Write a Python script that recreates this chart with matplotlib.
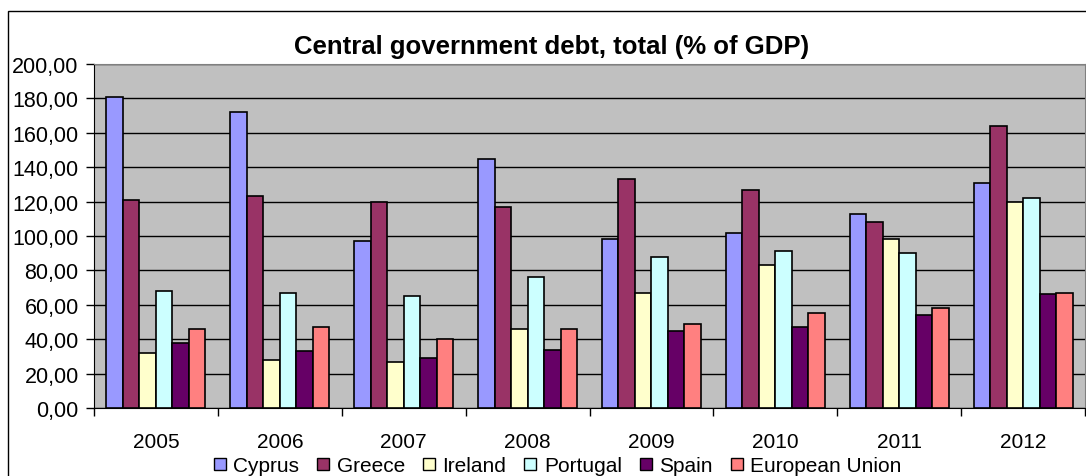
import numpy as np
import matplotlib.pyplot as plt
from matplotlib.patches import Rectangle
from matplotlib.lines import Line2D

years = ['2005', '2006', '2007', '2008', '2009', '2010', '2011', '2012']
countries = ['Cyprus', 'Greece', 'Ireland', 'Portugal', 'Spain', 'European Union']
cyprus = [181, 172, 97, 145, 98, 102, 113, 131]
greece = [121, 123, 120, 117, 133, 127, 108, 164]
ireland = [32, 28, 27, 46, 67, 83, 98, 120]
portugal = [68, 67, 65, 76, 88, 91, 90, 122]
spain = [38, 33, 29, 34, 45, 47, 54, 66]
eu = [46, 47, 40, 46, 49, 55, 58, 67]
colors = ['#9999FF', '#993366', '#FFFFCC', '#CCFFFF', '#660066', '#FF8080']

plt.rcParams['font.family'] = ['Liberation Sans', 'DejaVu Sans']

fig = plt.figure(figsize=(10.86, 4.77), dpi=100)
ax = fig.add_axes([94 / 1086, 1 - 409 / 477, 991 / 1086, 344 / 477])
ax.set_facecolor('#C0C0C0')

series = [cyprus, greece, ireland, portugal, spain, eu]
x = np.arange(len(years))
w = 0.8 / 6
for i, vals in enumerate(series):
    ax.bar(x - 0.4 + w * (i + 0.5), vals, w, color=colors[i], edgecolor='black',
           linewidth=1.2, zorder=3, label=countries[i])

ax.set_xlim(-0.5, len(years) - 0.5)
ax.set_ylim(0, 200)
ax.set_yticks(np.arange(0, 201, 20))
ax.set_yticklabels([f'{v},00' for v in range(0, 201, 20)])
ax.yaxis.grid(True, color='black', linewidth=1)
ax.set_axisbelow(True)

ax.set_xticks(x)
ax.set_xticklabels(years)
ax.set_xticks(np.arange(-0.5, len(years)), minor=True)
ax.tick_params(axis='x', which='major', length=0, pad=17, labelsize=15)
ax.tick_params(axis='x', which='minor', length=6, width=1, direction='out')
ax.tick_params(axis='y', length=6, width=1, pad=5, labelsize=15.5)

for s in ['top', 'right']:
    ax.spines[s].set_color('#808080')
for s in ['left', 'bottom']:
    ax.spines[s].set_color('black')

fig.text(552 / 1086, 1 - 47 / 477, 'Central government debt, total (% of GDP)',
         ha='center', va='center', fontsize=18.5, fontweight='bold')

handles = [Line2D([], [], marker='s', linestyle='none', markersize=9,
                  markerfacecolor=c, markeredgecolor='black', markeredgewidth=1)
           for c in colors]
fig.legend(handles, countries, loc='center', bbox_to_anchor=(557 / 1086, 1 - 467 / 477),
           ncol=6, frameon=False, fontsize=15, handletextpad=0.3, columnspacing=0.8,
           handlelength=0.7, borderaxespad=0)

frame = Rectangle((8 / 1086, -0.5), 2, 0.5 + 1 - 12 / 477, transform=fig.transFigure,
                  fill=False, edgecolor='black', linewidth=1, clip_on=False)
fig.add_artist(frame)

fig.savefig('out.png', dpi=100)
